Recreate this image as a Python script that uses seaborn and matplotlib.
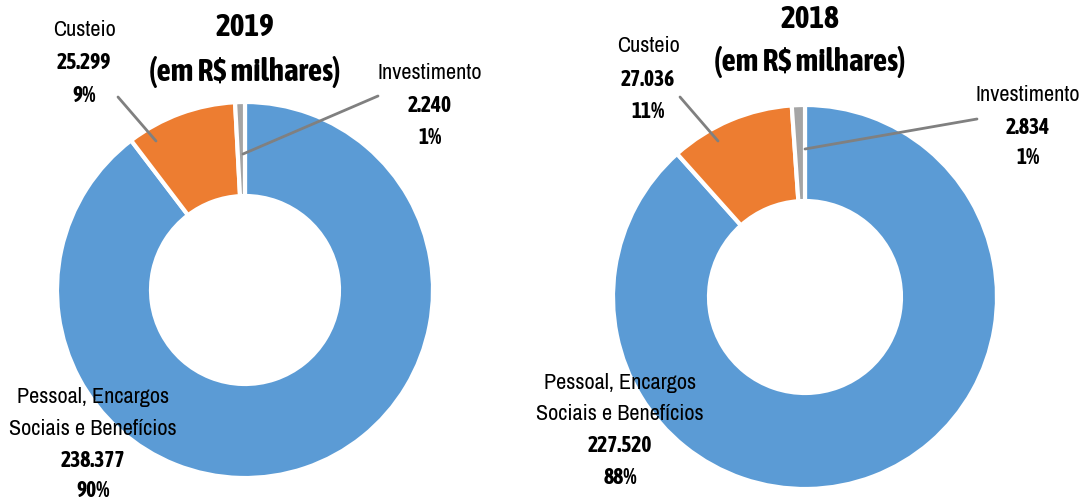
import matplotlib
matplotlib.use("Agg")
import matplotlib.pyplot as plt
from matplotlib import font_manager
import seaborn as sns

categories = ["Pessoal, Encargos\nSociais e Benefícios", "Custeio", "Investimento"]
values_2019 = [238377, 25299, 2240]
values_2018 = [227520, 27036, 2834]
labels_2019 = ["238.377", "25.299", "2.240"]
labels_2018 = ["227.520", "27.036", "2.834"]
pct_2019 = ["90%", "9%", "1%"]
pct_2018 = ["88%", "11%", "1%"]

sns.set_theme(style="white")
names = {f.name for f in font_manager.fontManager.ttflist}
REG = "Archivo Narrow" if "Archivo Narrow" in names else "DejaVu Sans"
BOLD = "Asap Condensed" if "Asap Condensed" in names else REG
plt.rcParams['font.family'] = [REG, 'DejaVu Sans']

colors = ["#5B9BD5", "#ED7D31", "#A5A5A5"]
W, H = 1083, 502
fig = plt.figure(figsize=(W / 100, H / 100), dpi=100)
ax = fig.add_axes([0, 0, 1, 1])


def Y(y):
    return H - y


def donut(vals, cx, cy, r):
    ax.pie(vals, colors=colors, startangle=90, counterclock=False,
           center=(cx, Y(cy)), radius=r, frame=True,
           wedgeprops=dict(width=r * 0.5, edgecolor="white", linewidth=3))


donut(values_2019, 245, 291, 188)
donut(values_2018, 805, 298, 192)
ax.set_xlim(0, W)
ax.set_ylim(0, H)
ax.set_aspect("equal")
ax.axis("off")

reg = dict(fontsize=16, ha="center", va="center", color="black", family=[REG, 'DejaVu Sans'])
bold = dict(fontsize=15.5, ha="center", va="center", color="black", fontweight="bold",
            family=[BOLD, 'DejaVu Sans'])
title = dict(fontsize=22.5, ha="center", va="center", color="black", fontweight="bold",
             family=[BOLD, 'DejaVu Sans'])


def block(x, ys, name, num, pct):
    lines = name.split("\n")
    for i, ln in enumerate(lines):
        ax.text(x, Y(ys[i]), ln, **reg)
    ax.text(x, Y(ys[len(lines)]), num, **bold)
    ax.text(x, Y(ys[len(lines) + 1]), pct, **bold)


# 2019
ax.text(245, Y(28), "2019", **title)
ax.text(245, Y(72), "(em R$ milhares)", **title)
block(84, [30, 63, 96], categories[1], labels_2019[1], pct_2019[1])
block(430, [73, 106, 138], categories[2], labels_2019[2], pct_2019[2])
block(93, [397, 429, 461, 491], categories[0], labels_2019[0], pct_2019[0])
ax.plot([118, 156], [Y(98), Y(142)], color="#808080", lw=2)
ax.plot([378, 243], [Y(97), Y(155)], color="#808080", lw=2)

# 2018
ax.text(810, Y(19), "2018", **title)
ax.text(810, Y(62), "(em R$ milhares)", **title)
block(648, [46, 80, 112], categories[1], labels_2018[1], pct_2018[1])
block(1028, [95, 128, 158], categories[2], labels_2018[2], pct_2018[2])
block(620, [383, 414, 446, 478], categories[0], labels_2018[0], pct_2018[0])
ax.plot([680, 718], [Y(98), Y(142)], color="#808080", lw=2)
ax.plot([977, 805], [Y(120), Y(150)], color="#808080", lw=2)

fig.savefig("out.png", dpi=100, facecolor="white")
